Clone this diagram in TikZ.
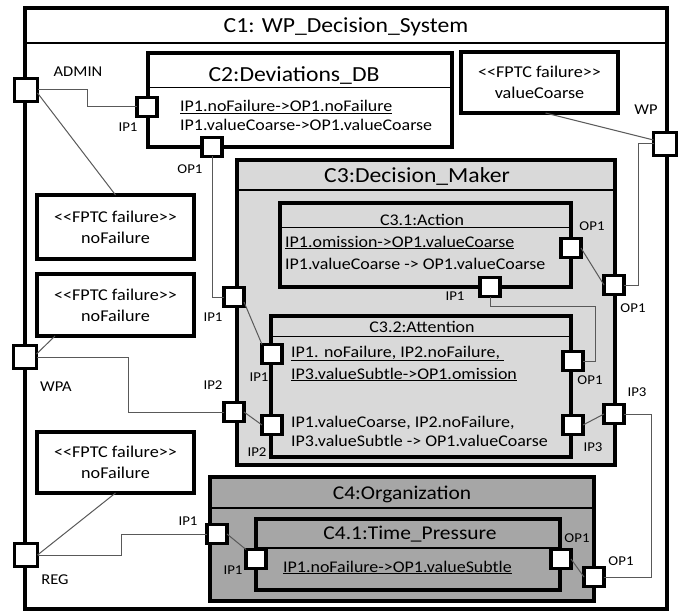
\documentclass[tikz,border=0pt]{standalone}
\usepackage{fontspec}
\setmainfont[FakeStretch=1.1]{Carlito}
\usetikzlibrary{calc}
\definecolor{lgray}{HTML}{D9D9D9}
\definecolor{dgray}{HTML}{A6A6A6}
\definecolor{cgray}{HTML}{595959}
\begin{document}
\begin{tikzpicture}[x=1pt,y=-1pt,
  comp/.style={draw, line width=3.1pt, anchor=north west, inner sep=0pt, outer sep=0pt},
  port/.style={draw, line width=3.1pt, fill=white, minimum width=20pt, minimum height=19pt, inner sep=0pt, outer sep=0pt},
  bigport/.style={port, minimum width=23pt, minimum height=23pt},
  conn/.style={draw=cgray, line width=1pt},
  sepline/.style={line width=1.3pt},
  bigtitle/.style={font=\fontsize{21.5}{24}\selectfont, inner sep=0pt, anchor=base},
  midtitle/.style={font=\fontsize{19.5}{22}\selectfont, inner sep=0pt, anchor=base},
  subtitle/.style={font=\fontsize{16.3}{19}\selectfont, inner sep=0pt, anchor=base},
  txt/.style={font=\fontsize{16.3}{19}\selectfont, inner sep=0pt, anchor=base west},
  lbl/.style={font=\fontsize{13.5}{15}\selectfont, inner sep=0pt},
  biglbl/.style={font=\fontsize{15}{17}\selectfont, inner sep=0pt},
  fptc/.style={draw, line width=3.1pt, fill=white, minimum width=157pt, minimum height=62pt, anchor=north west, inner sep=0pt, outer sep=0pt, align=center, font=\fontsize{16.5}{21}\selectfont},
]
\useasboundingbox (0,0) rectangle (684,612);

% C1
\node[comp, fill=white, minimum width=642pt, minimum height=601pt] (c1) at (25,8) {};
\draw[line width=2.2pt] (c1.west |- 0,43) -- (c1.east |- 0,43);
\node[bigtitle] (c1t) at (346,33) {C1: WP\_Decision\_System};

% C2
\node[comp, fill=white, minimum width=304pt, minimum height=94pt] (c2) at (148,53) {};
\draw[line width=1pt] (c2.west |- 0,88) -- (c2.east |- 0,88);
\node[bigtitle] (c2t) at (294,82) {C2:Deviations\_DB};
\node[txt] (c2a) at (180,112) {\underline{IP1.noFailure->OP1.noFailure}};
\node[txt] (c2b) at (180,131) {IP1.valueCoarse->OP1.valueCoarse};

% FPTC boxes
\node[fptc, minimum height=61pt] (fwp) at (461,52) {<\kern0pt<FPTC failure>\kern0pt>\\valueCoarse};
\node[fptc, minimum height=64pt] (f1) at (37,195) {<\kern0pt<FPTC failure>\kern0pt>\\noFailure};
\node[fptc] (f2) at (37,274) {<\kern0pt<FPTC failure>\kern0pt>\\noFailure};
\node[fptc, minimum height=61pt] (f3) at (37,432) {<\kern0pt<FPTC failure>\kern0pt>\\noFailure};

% C3
\node[comp, fill=lgray, minimum width=378pt, minimum height=305pt] (c3) at (237,160) {};
\draw[sepline] (c3.west |- 0,190) -- (c3.east |- 0,190);
\node[bigtitle] (c3t) at (417,183) {C3:Decision\_Maker};

% C3.1
\node[comp, fill=lgray, minimum width=291pt, minimum height=84pt] (c31) at (280,203) {};
\draw[line width=1pt] (c31.west |- 0,227) -- ($(c31.east |- 0,227)+(-2,0)$);
\node[subtitle] (c31t) at (422,225) {C3.1:Action};
\node[txt] (c31a) at (285,247) {\underline{IP1.omission->OP1.valueCoarse}};
\node[txt] (c31b) at (285,269) {IP1.valueCoarse -> OP1.valueCoarse};

% C3.2
\node[comp, fill=lgray, minimum width=300pt, minimum height=141pt] (c32) at (271,316) {};
\draw[line width=1pt] (c32.west |- 0,336) -- (c32.east |- 0,336);
\node[subtitle] (c32t) at (422,332) {C3.2:Attention};
\node[txt] (c32a) at (291,357) {\underline{IP1. noFailure, IP2.noFailure,\ }};
\node[txt] (c32b) at (291,379) {\underline{IP3.valueSubtle->OP1.omission}};
\node[txt] (c32c) at (291,427) {IP1.valueCoarse, IP2.noFailure,};
\node[txt] (c32d) at (291,446) {IP3.valueSubtle -> OP1.valueCoarse};

% C4
\node[comp, fill=dgray, minimum width=384pt, minimum height=124pt] (c4) at (210,477) {};
\draw[sepline] (c4.west |- 0,508) -- (c4.east |- 0,508);
\node[midtitle] (c4t) at (402,499) {C4:Organization};

% C4.1
\node[comp, fill=dgray, minimum width=304pt, minimum height=71pt] (c41) at (256,519) {};
\draw[sepline] (c41.west |- 0,548) -- (c41.east |- 0,548);
\node[midtitle] (c41t) at (410,539) {C4.1:Time\_Pressure};
\node[txt] (c41a) at (283,572) {\underline{IP1.noFailure->OP1.valueSubtle}};

% ports
\node[bigport] (admin) at (26,90) {};
\node[bigport] (wpa) at (25,357) {};
\node[bigport] (reg) at (26,555) {};
\node[bigport] (wp) at (665,144) {};
\node[port] (c2ip1) at (147,107) {};
\node[port] (c2op1) at (212,147) {};
\node[port] (c3ip1) at (234,297) {};
\node[port] (c3ip2) at (234,412) {};
\node[port] (c3op1) at (614,285) {};
\node[port] (c3ip3) at (614,414) {};
\node[port] (c31op1) at (571,248) {};
\node[port] (c31ip1) at (490,287) {};
\node[port] (c32ip1) at (272,354) {};
\node[port] (c32ip2) at (272,425) {};
\node[port] (c32op1) at (573,361) {};
\node[port] (c32ip3) at (573,425) {};
\node[port] (c4ip1) at (217,534) {};
\node[port] (c41ip1) at (256,559) {};
\node[port] (c41op1) at (561,559) {};
\node[port] (c4op1) at (594,577) {};

% connectors
\draw[conn] (admin.east) -- ++(50,0) |- (c2ip1.west);
\draw[conn] ($(admin.east)+(0,3)$) -- (f1.north);
\draw[conn] ($(wp.west)+(0,-4)$) -- ($(fwp.south)+(6,0)$);
\draw[conn] (wp.west) -- ++(-15,0) |- (c3op1.east);
\draw[conn] (c2op1.south) |- (c3ip1.west);
\draw[conn] ($(wpa.east)+(0,-3)$) -- ($(f2.south west)+(18,0)$);
\draw[conn] (wpa.east) -- ++(92,0) |- (c3ip2.west);
\draw[conn] (reg.east) -- (f3.south);
\draw[conn] (reg.east) -- ++(84,0) |- (c4ip1.west);
\draw[conn] (c31op1.east) -- (c3op1.west);
\draw[conn] (c31ip1.south) -- ++(0,10) -| ($(c32op1.east)+(12,0)$) -- (c32op1.east);
\draw[conn] ($(c3ip1.east)+(0,5)$) -- (c32ip1.north west);
\draw[conn] (c3ip2.east) -- (c32ip2.west);
\draw[conn] (c32ip3.east) -- (c3ip3.west);
\draw[conn] (c4op1.east) -- ++(47,0) |- (c3ip3.east);
\draw[conn] (c4ip1.east) -- (c41ip1.north west);
\draw[conn] (c41op1.east) -- (c4op1.west);

% labels
\node[biglbl] (ladmin) at (78,72) {ADMIN};
\node[biglbl] (lwp) at (646,110) {WP};
\node[biglbl] (lwpa) at (56,387) {WPA};
\node[biglbl] (lreg) at (55,580) {REG};
\node[lbl] (lc2ip1) at (128,127) {IP1};
\node[lbl] (lc2op1) at (190,169) {OP1};
\node[lbl] (lc3ip1) at (213,317) {IP1};
\node[lbl] (lc3ip2) at (213,385) {IP2};
\node[lbl] (lc32ip1) at (259,377) {IP1};
\node[lbl] (lc32ip2) at (257,452) {IP2};
\node[lbl] (lc31op1) at (592,226) {OP1};
\node[lbl] (lc31ip1) at (455,296) {IP1};
\node[lbl] (lc3op1) at (633,308) {OP1};
\node[lbl] (lc32op1) at (590,380) {OP1};
\node[lbl] (lc3ip3) at (637,392) {IP3};
\node[lbl] (lc32ip3) at (593,447) {IP3};
\node[lbl] (lc4ip1) at (188,521) {IP1};
\node[lbl] (lc41ip1) at (233,570) {IP1};
\node[lbl] (lc41op1) at (577,538) {OP1};
\node[lbl] (lc4op1) at (621,561) {OP1};
\end{tikzpicture}
\end{document}
